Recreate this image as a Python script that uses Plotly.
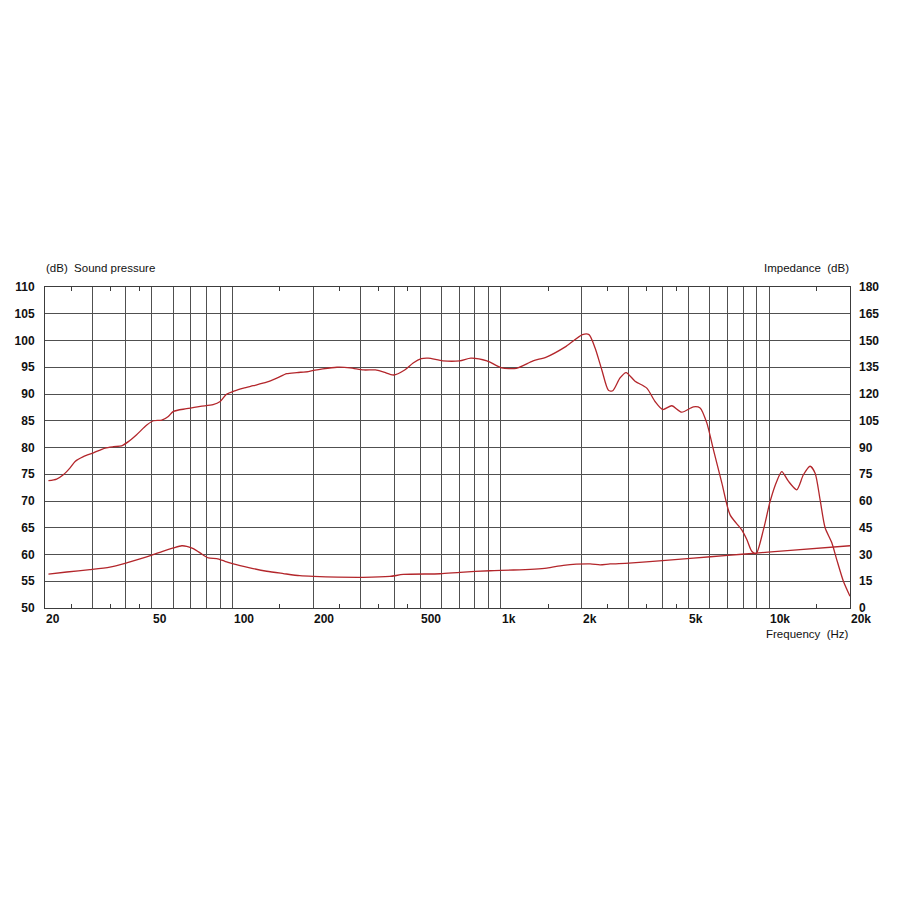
import math
import plotly.graph_objects as go

# ---- data ----
spl_freq = [20.6, 22.1, 23.4, 24.8, 25.9, 27.8, 30.3, 33.5, 36.0, 38.6, 40.9, 43.9, 47.9, 50.7,
            54.5, 57.6, 60.2, 67.3, 75.8, 84.6, 89.9, 94.7, 101.9, 109.9, 119.4, 134, 146.8,
            159.2, 173.7, 191.4, 200, 217, 245, 274, 308, 341, 366, 398, 438, 471, 505, 536,
            608, 702, 773, 887, 1006, 1142, 1318, 1477, 1750, 2014, 2130, 2244, 2378, 2516,
            2612, 2780, 2928, 3162, 3497, 3754, 4012, 4333, 4722, 5218, 5526, 5853, 6194,
            6658, 7148, 7902, 8250, 8610, 8934, 9512, 10074, 10670, 11137, 11787, 12668,
            13407, 14202, 14826, 15477, 16155, 17111, 17858, 18897, 20000]
spl_db = [73.8, 74.1, 74.9, 76.2, 77.4, 78.3, 79.0, 79.9, 80.15, 80.3, 81.1, 82.4, 84.2, 85.0,
          85.1, 85.8, 86.75, 87.25, 87.7, 88.0, 88.6, 89.9, 90.6, 91.1, 91.55, 92.2, 93.0,
          93.8, 94.0, 94.2, 94.4, 94.7, 95.0, 94.9, 94.5, 94.5, 94.1, 93.55, 94.5, 95.8, 96.6,
          96.7, 96.2, 96.2, 96.7, 96.2, 94.9, 94.8, 96.2, 96.9, 98.9, 101.1, 101.1, 98.6,
          94.5, 90.7, 90.6, 93.0, 94.0, 92.4, 91.1, 88.6, 87.1, 87.8, 86.6, 87.6, 87.4, 84.6,
          79.6, 73.4, 67.4, 64.6, 62.8, 60.6, 60.15, 64.6, 69.9, 73.7, 75.5, 73.7, 72.1, 74.9,
          76.5, 75.2, 70.2, 65.0, 62.2, 59.0, 55.0, 52.2]

imp_freq = [20.6, 24.1, 29.4, 34.9, 40.3, 45.2, 50.0, 54.9, 60.2, 64.7, 67.5, 71.4, 75.7, 81.2,
            87.3, 93.7, 100.7, 116, 134, 154.6, 178, 200, 307, 386, 433, 593, 705, 911, 1113,
            1482, 1710, 2150, 2342, 2552, 3000, 4000, 5218, 7000, 8934, 12000, 20000]
imp_db = [19.0, 20.2, 21.5, 22.9, 25.3, 27.5, 29.6, 31.8, 33.7, 34.9, 34.6, 33.3, 30.9, 28.1,
          27.7, 26.2, 24.7, 22.5, 20.6, 19.3, 18.1, 17.7, 17.2, 17.7, 18.8, 19.2, 20.0, 20.9,
          21.3, 22.4, 23.9, 24.7, 24.2, 24.7, 25.2, 26.6, 28.0, 29.5, 30.8, 32.3, 34.9]

x_grid_vals = [20, 30, 40, 50, 60, 70, 80, 90, 100, 200, 300, 400, 500, 600, 700, 800, 900,
               1000, 2000, 3000, 4000, 5000, 6000, 7000, 8000, 9000, 10000, 20000]
x_minor_vals = [25, 35, 45, 150, 250, 350, 450, 1500, 2500, 3500, 4500, 15000]
x_label_vals = [20, 50, 100, 200, 500, 1000, 2000, 5000, 10000, 20000]
x_label_text = ["20", "50", "100", "200", "500", "1k", "2k", "5k", "10k", "20k"]

left_title = "(dB)  Sound pressure"
right_title = "Impedance  (dB)"
x_title = "Frequency  (Hz)"

# ---- styling ----
LINE = "#b3262b"
GRID = "#505050"
FRAME = "#3c3c3c"
TXT = "#111111"
FONT = "Liberation Sans, Arial, sans-serif"

fig = go.Figure()
fig.add_trace(go.Scatter(x=spl_freq, y=spl_db, mode="lines",
                         line=dict(color=LINE, width=1.3, shape="spline", smoothing=0.7),
                         hoverinfo="skip", showlegend=False))
fig.add_trace(go.Scatter(x=imp_freq, y=imp_db, mode="lines", yaxis="y2",
                         line=dict(color=LINE, width=1.3, shape="spline", smoothing=0.7),
                         hoverinfo="skip", showlegend=False))

annotations = []
for v, t in zip(x_label_vals, x_label_text):
    annotations.append(dict(x=math.log10(v), y=0, xref="x", yref="paper",
                            text=t, showarrow=False, xanchor="left", yanchor="top",
                            xshift=-1, yshift=-2,
                            font=dict(family=FONT, size=12, color=TXT, weight="bold")))
annotations += [
    dict(x=0, y=1, xref="paper", yref="paper", text=left_title, showarrow=False,
         xanchor="left", yanchor="middle", yshift=19, xshift=-1,
         font=dict(family=FONT, size=11.5, color=TXT)),
    dict(x=1, y=1, xref="paper", yref="paper", text=right_title, showarrow=False,
         xanchor="right", yanchor="middle", yshift=19, xshift=1,
         font=dict(family=FONT, size=11.5, color=TXT)),
    dict(x=1, y=0, xref="paper", yref="paper", text=x_title, showarrow=False,
         xanchor="right", yanchor="middle", yshift=-26, xshift=1,
         font=dict(family=FONT, size=11.5, color=TXT)),
]

# the page body adds an 8px offset, so the figure is sized 892x892
fig.update_layout(
    width=892, height=892,
    margin=dict(l=37, r=50, t=279, b=292, pad=0),
    paper_bgcolor="white", plot_bgcolor="white",
    font=dict(family=FONT, size=12, color=TXT),
    showlegend=False,
    annotations=annotations,
    xaxis=dict(type="log", range=[math.log10(20), math.log10(20000)], automargin=False,
               tickmode="array", tickvals=x_grid_vals, showticklabels=False,
               ticks="", showgrid=True, gridcolor=GRID, gridwidth=1,
               showline=True, linecolor=FRAME, linewidth=1, mirror="ticks",
               minor=dict(tickmode="array", tickvals=x_minor_vals, ticks="inside",
                          ticklen=4, tickcolor=FRAME, tickwidth=1, showgrid=False),
               zeroline=False),
    yaxis=dict(range=[50, 110], tickmode="linear", tick0=50, dtick=5, automargin=False,
               showgrid=True, gridcolor=GRID, gridwidth=1, ticks="",
               showline=True, linecolor=FRAME, linewidth=1, mirror=True,
               zeroline=False, ticklabelstandoff=7,
               tickfont=dict(family=FONT, size=12, color=TXT, weight="bold")),
    yaxis2=dict(range=[0, 180], tickmode="linear", tick0=0, dtick=15, automargin=False,
                overlaying="y", side="right", showgrid=False, ticks="",
                zeroline=False, showline=False, ticklabelstandoff=8,
                tickfont=dict(family=FONT, size=12, color=TXT, weight="bold")),
)

fig.write_html("out.html")
